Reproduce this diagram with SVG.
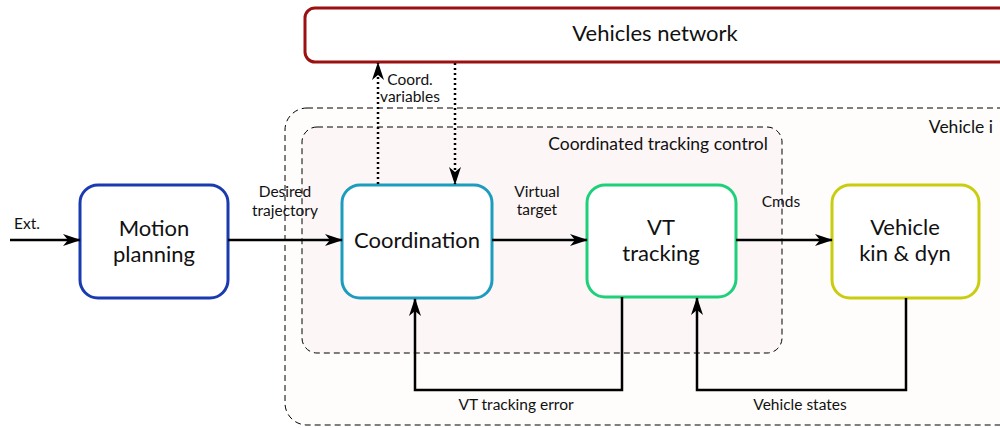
<svg xmlns="http://www.w3.org/2000/svg" width="1000" height="428" viewBox="0 0 1000 428">
<style>
text{font-family:Lato,"Liberation Sans",sans-serif;fill:#111;text-anchor:middle}
.big{font-size:22px}
.sm{font-size:15.5px}
.node{fill:#fff;stroke-width:3}
.conn{fill:none;stroke:#000;stroke-width:2.5}
.dot{fill:none;stroke:#000;stroke-width:2.5;stroke-dasharray:2 3}
.dash{stroke:#000;stroke-width:1;stroke-dasharray:6 4}
</style>
<defs>
<marker id="ah" viewBox="0 0 18 12" refX="17" refY="6" markerWidth="18" markerHeight="12" markerUnits="userSpaceOnUse" orient="auto">
<path d="M0,0 L18,6 L0,12 L5,6 z" fill="#000"/>
</marker>
</defs>
<rect width="1000" height="428" fill="#fff"/>
<g id="vehicle-i">
<rect x="285" y="108" width="740" height="317" rx="22" fill="#fefdfb" class="dash"/>
<text x="993" y="133" style="font-size:17.5px;text-anchor:end">Vehicle i</text>
</g>
<g id="coordinated-tracking-control">
<rect x="302" y="127" width="480" height="226" rx="15" fill="#fcf6f7" class="dash"/>
<text x="658" y="150" style="font-size:17.5px">Coordinated tracking control</text>
</g>
<g id="vehicles-network">
<rect x="305" y="8" width="710" height="54" rx="10" class="node" stroke="#9b1010"/>
<text x="655" y="41" class="big">Vehicles network</text>
</g>
<g id="motion-planning">
<rect x="80" y="185" width="148" height="113" rx="18" class="node" stroke="#1a3bb0"/>
<text x="154" y="236" class="big">Motion</text>
<text x="154" y="262" class="big">planning</text>
</g>
<g id="coordination">
<rect x="342" y="185" width="150" height="113" rx="18" class="node" stroke="#1c9dbe"/>
<text x="417" y="248" class="big">Coordination</text>
</g>
<g id="vt-tracking">
<rect x="587" y="185" width="149" height="112" rx="18" class="node" stroke="#1fd07a"/>
<text x="661" y="235" class="big">VT</text>
<text x="661" y="261" class="big">tracking</text>
</g>
<g id="vehicle-kin-dyn">
<rect x="832" y="185" width="147" height="113" rx="18" class="node" stroke="#cacc10"/>
<text x="905" y="235" class="big">Vehicle</text>
<text x="905" y="261" class="big">kin &amp; dyn</text>
</g>
<g id="connectors">
<line x1="10" y1="240" x2="80" y2="240" class="conn" marker-end="url(#ah)"/>
<line x1="228" y1="240" x2="342" y2="240" class="conn" marker-end="url(#ah)"/>
<line x1="492" y1="240" x2="587" y2="240" class="conn" marker-end="url(#ah)"/>
<line x1="736" y1="240" x2="832" y2="240" class="conn" marker-end="url(#ah)"/>
<line x1="378" y1="184" x2="378" y2="63" class="dot" marker-end="url(#ah)"/>
<line x1="455" y1="63" x2="455" y2="184" class="dot" marker-end="url(#ah)"/>
<polyline points="622,297 622,390 415,390 415,299" class="conn" marker-end="url(#ah)"/>
<polyline points="906,298 906,390 697,390 697,298" class="conn" marker-end="url(#ah)"/>
<text x="27" y="229" class="sm">Ext.</text>
<text x="285" y="197" class="sm">Desired</text>
<text x="285" y="216" class="sm">trajectory</text>
<text x="537" y="197" class="sm">Virtual</text>
<text x="537" y="215" class="sm">target</text>
<text x="781" y="207" class="sm">Cmds</text>
<text x="410" y="85" class="sm">Coord.</text>
<text x="410" y="102" class="sm">variables</text>
<text x="516" y="410" class="sm">VT tracking error</text>
<text x="800" y="410" class="sm">Vehicle states</text>
</g>
</svg>
